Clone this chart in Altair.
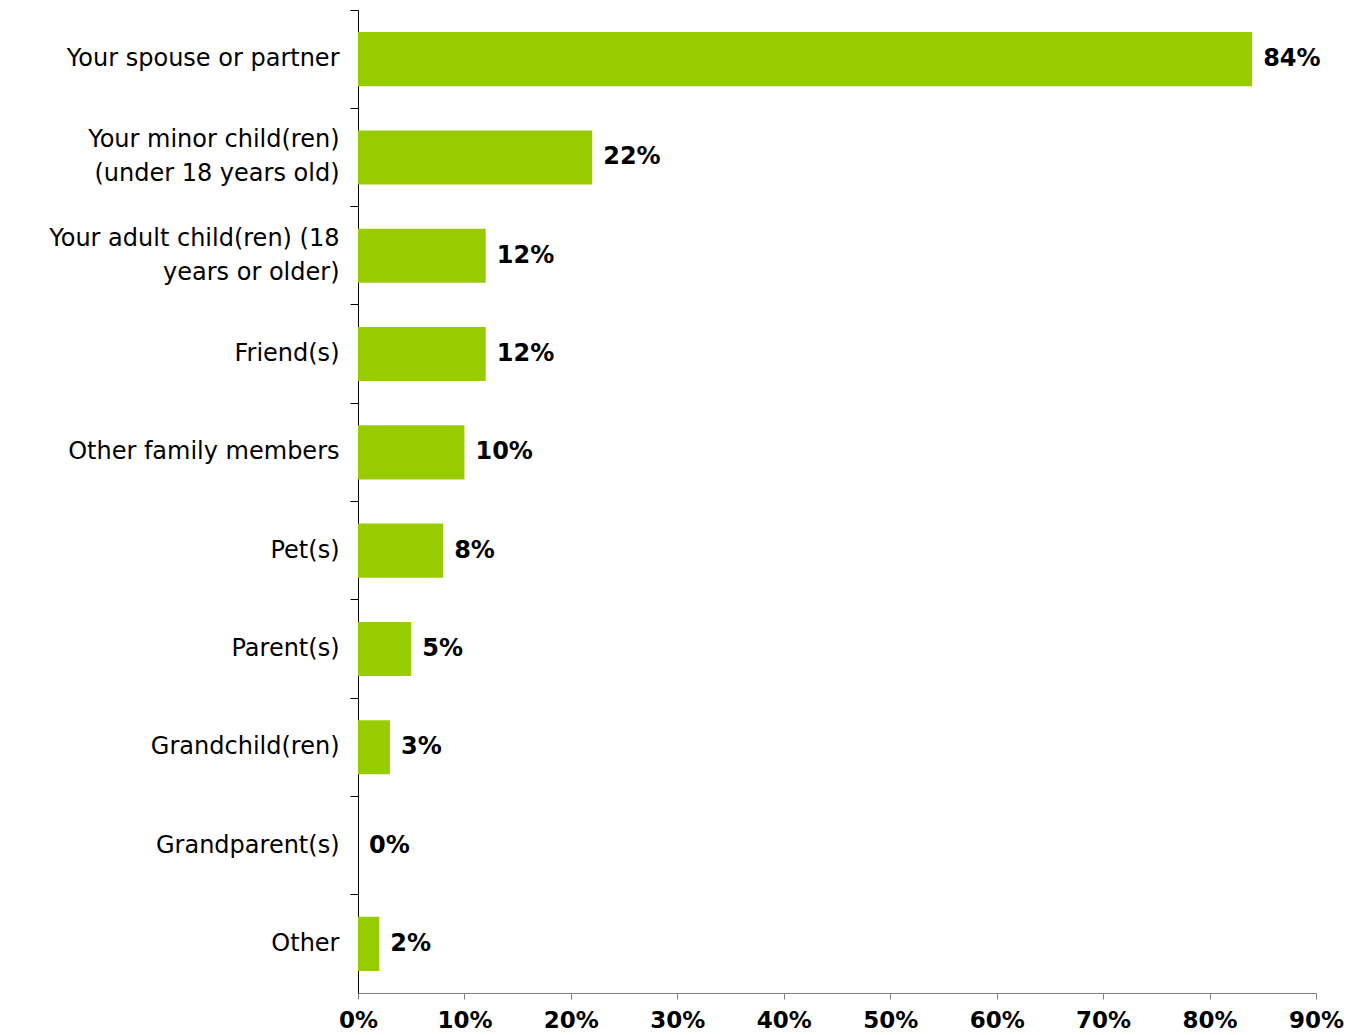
import altair as alt
import pandas as pd

categories = [
    "Your spouse or partner",
    "Your minor child(ren)|(under 18 years old)",
    "Your adult child(ren) (18|years or older)",
    "Friend(s)",
    "Other family members",
    "Pet(s)",
    "Parent(s)",
    "Grandchild(ren)",
    "Grandparent(s)",
    "Other",
]
values = [84, 22, 12, 12, 10, 8, 5, 3, 0, 2]

df = pd.DataFrame({"cat": categories, "val": values})
df["lbl"] = df["val"].astype(str) + "%"

FONT = "DejaVu Sans"
H = 983

y = alt.Y(
    "cat:N",
    sort=categories,
    title=None,
    scale=alt.Scale(paddingInner=0.45, paddingOuter=0.225),
    axis=alt.Axis(
        labelExpr="split(datum.label, '|')",
        labelFont=FONT,
        labelFontSize=24,
        labelColor="#000000",
        labelLineHeight=34,
        labelPadding=11,
        labelLimit=400,
        tickSize=8,
        tickColor="#000000",
        domainColor="#000000",
        bandPosition=-0.409,
        labelBaseline="middle",
        grid=False,
        labelOffset={"condition": {"test": "indexof(datum.label, '|') >= 0", "value": -17}, "value": 0},
    ),
)

x = alt.X(
    "val:Q",
    title=None,
    scale=alt.Scale(domain=[0, 90], nice=False),
    axis=alt.Axis(
        values=[0, 10, 20, 30, 40, 50, 60, 70, 80, 90],
        labelExpr="datum.value + '%'",
        labelFont=FONT,
        labelFontSize=23,
        labelFontWeight="bold",
        labelColor="#000000",
        labelPadding=10,
        tickSize=6,
        tickColor="#808080",
        domainColor="#808080",
        grid=False,
        labelFlush=False,
        labelOverlap=False,
    ),
)

bars = alt.Chart(df).mark_bar(color="#99CC00").encode(x=x, y=y)
text = alt.Chart(df).mark_text(
    align="left", baseline="middle", dx=11, font=FONT, fontSize=24, fontWeight="bold", color="#000000"
).encode(x="val:Q", y=alt.Y("cat:N", sort=categories), text="lbl:N")

chart = (
    alt.layer(bars, text)
    .properties(
        width=958,
        height=H,
        autosize=alt.AutoSizeParams(type="none"),
        padding={"left": 350, "top": 2, "right": 28, "bottom": 40},
        view=alt.ViewBackground(stroke="transparent", strokeWidth=0),
    )
    .configure_view(stroke="transparent", strokeWidth=0)
    .configure_axis(grid=False)
    .configure(background="#ffffff")
)

chart.save("out.html", embed_options={"renderer": "svg", "actions": False})
